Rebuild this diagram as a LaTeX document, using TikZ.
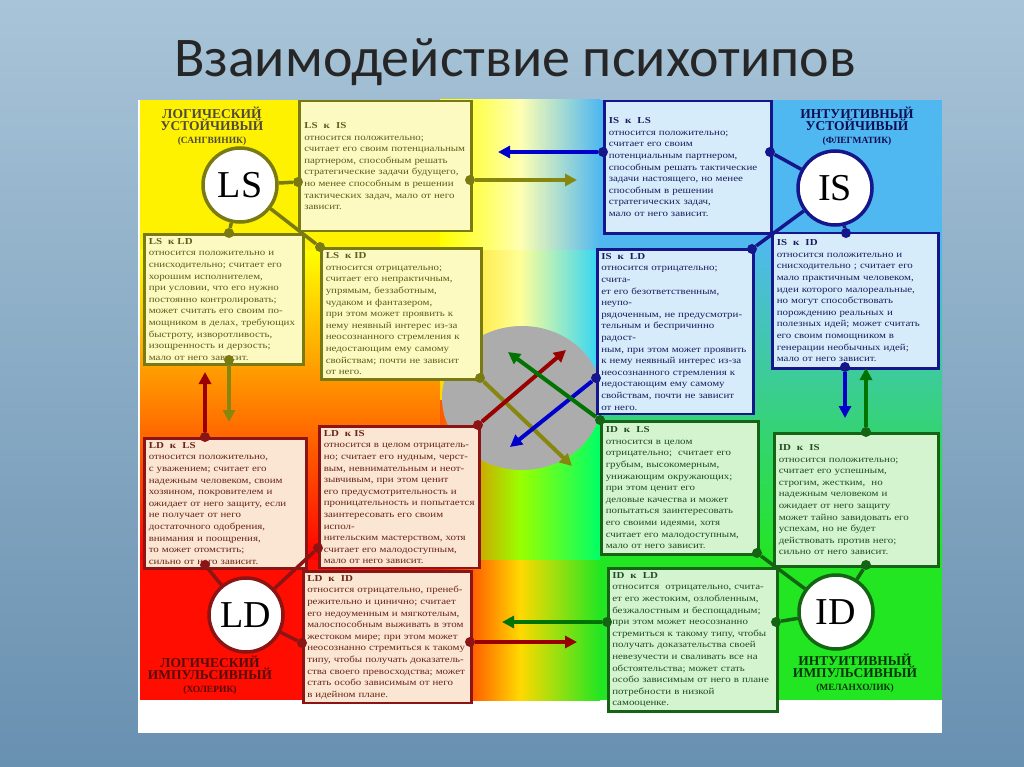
\documentclass[tikz,border=0pt]{standalone}
\usepackage{fontspec}
\setmainfont{Liberation Serif}
\newfontfamily\titlefont{Carlito}
\newfontfamily\boxfont[FakeStretch=1.2]{Liberation Serif}
\usetikzlibrary{arrows.meta,shadings}

\definecolor{lsline}{HTML}{7A7A12}
\definecolor{lsfill}{HTML}{FCFAC0}
\definecolor{lstext}{HTML}{5E5E1A}
\definecolor{isline}{HTML}{16168C}
\definecolor{isfill}{HTML}{D6ECFA}
\definecolor{istext}{HTML}{1C1C60}
\definecolor{ldline}{HTML}{8C1414}
\definecolor{ldfill}{HTML}{FAE6D2}
\definecolor{ldtext}{HTML}{6A2418}
\definecolor{idline}{HTML}{146414}
\definecolor{idfill}{HTML}{D4F4D0}
\definecolor{idtext}{HTML}{1E4E1E}
\definecolor{skyb}{HTML}{50B8F0}
\definecolor{grn}{HTML}{22E622}
\definecolor{slidetop}{HTML}{A8C4D8}
\definecolor{slidebot}{HTML}{6890B0}

\tikzset{
    relbox/.style={
        anchor=north west,
        line width=2.5pt,
        align=left,
        inner sep=4pt,
        font=\boxfont\fontsize{9.1}{11.6}\selectfont
    },
    lsbox/.style={relbox, draw=lsline, fill=lsfill, text=lstext},
    isbox/.style={relbox, draw=isline, fill=isfill, text=istext},
    ldbox/.style={relbox, draw=ldline, fill=ldfill, text=ldtext},
    idbox/.style={relbox, draw=idline, fill=idfill, text=idtext},
    typecirc/.style={
        circle,
        line width=3.5pt,
        fill=white,
        minimum size=74pt,
        font=\fontsize{38}{38}\selectfont
    },
    typelabel/.style={
        align=center,
        font=\bfseries\fontsize{13.5}{12.5}\selectfont
    },
    link/.style={line width=3.5pt},
    relarrow/.style={line width=4pt, -{Triangle[width=12pt,length=12pt]}},
    dot/.style={circle, inner sep=0pt, minimum size=10pt}
}

\newcommand{\hd}[1]{\textbf{#1}\\}

\begin{document}
\begin{tikzpicture}[x=1pt,y=-1pt]
	\useasboundingbox (0,0) rectangle (1024,767);
	% slide background
	\shade[top color=slidetop, bottom color=slidebot] (0,0) rectangle (1024,767);
	\node[font=\titlefont\fontsize{56}{56}\selectfont, text=black!85] (title) at (515,62) {Взаимодействие психотипов};

	% colour field
	\fill[white] (138,100) rectangle (942,733);
	\fill[yellow] (140,100) rectangle (440,250);
	\shade[top color=yellow, middle color=orange, bottom color=red] (140,250) rectangle (440,560);
	\fill[red!90!orange] (140,560) rectangle (440,700);
	\fill[skyb] (600,100) rectangle (942,240);
	\shade[top color=skyb, middle color=cyan!60!green!60, bottom color=grn] (600,240) rectangle (942,560);
	\fill[grn] (600,560) rectangle (942,700);
	\shade[left color=yellow, right color=skyb, middle color=yellow!30!white] (440,100) rectangle (600,250);
	\shade[left color=yellow!70!orange, right color=skyb!60!cyan, middle color=yellow!40!white] (440,250) rectangle (600,400);
	\shade[left color=orange!70!red, right color=cyan!40!green, middle color=yellow!60!green] (440,400) rectangle (600,560);
	\shade[left color=red!90!orange, right color=grn, middle color=yellow!70!orange] (440,560) rectangle (600,700);
	\fill[gray!65] (522,398) ellipse [x radius=80, y radius=72];

	% type circles and captions
	\node[typecirc, draw=lsline] (ls) at (240,185) {LS};
	\node[typecirc, draw=isline] (is) at (835,188) {IS};
	\node[typecirc, draw=ldline] (ld) at (246,615) {LD};
	\node[typecirc, draw=idline] (id) at (836,612) {ID};
	\node[typelabel, text=black!80!yellow] (lslab) at (212,126) {ЛОГИЧЕСКИЙ\\УСТОЙЧИВЫЙ\\{\fontsize{9.5}{11}\selectfont(САНГВИНИК)}};
	\node[typelabel, text=isline!60!black] (islab) at (857,126) {ИНТУИТИВНЫЙ\\УСТОЙЧИВЫЙ\\{\fontsize{9.5}{11}\selectfont(ФЛЕГМАТИК)}};
	\node[typelabel, text=ldline!60!black] (ldlab) at (210,675) {ЛОГИЧЕСКИЙ\\ИМПУЛЬСИВНЫЙ\\{\fontsize{9.5}{11}\selectfont(ХОЛЕРИК)}};
	\node[typelabel, text=idline!50!black] (idlab) at (855,673) {ИНТУИТИВНЫЙ\\ИМПУЛЬСИВНЫЙ\\{\fontsize{9.5}{11}\selectfont(МЕЛАНХОЛИК)}};

	% LS boxes
	\node[lsbox, minimum width=172pt, minimum height=130pt, text width=162pt] (lsis) at (298,100) {\hd{LS\ \ к\ \ IS}относится положительно;\\считает его своим потенциальным\\партнером, способным решать\\стратегические задачи будущего,\\но менее способным в решении\\тактических задач, мало от него\\зависит.};
	\node[lsbox, minimum width=159pt, minimum height=127pt, text width=150pt] (lsld) at (143,233) {\hd{LS\ \ к\ LD}относится положительно и\\снисходительно; считает его\\хорошим исполнителем,\\при условии, что его нужно\\постоянно контролировать;\\может считать его своим по-\\мощником в делах, требующих\\быстроту, изворотливость,\\изощренность и дерзость;\\мало от него зависит.};
	\node[lsbox, minimum width=160pt, minimum height=131pt, text width=151pt] (lsid) at (320,247) {\hd{LS\ \ к\ ID}относится отрицательно;\\считает его непрактичным,\\упрямым, беззаботным,\\чудаком и фантазером,\\при этом может проявить к\\нему неявный интерес из-за\\неосознанного стремления к\\недостающим ему самому\\свойствам; почти не зависит\\от него.};

	% IS boxes
	\node[isbox, minimum width=167pt, minimum height=132pt, text width=158pt] (isls) at (603,100) {\hd{IS\ \ к\ \ LS}относится положительно;\\считает его своим\\потенциальным партнером,\\способным решать тактические\\задачи настоящего, но менее\\способным в решении\\стратегических задач,\\мало от него зависит.};
	\node[isbox, minimum width=156pt, minimum height=130pt, text width=148pt] (isld) at (596,248) {\hd{IS\ \ к\ \ LD}относится отрицательно; счита-\\ет его безответственным, неупо-\\рядоченным, не предусмотри-\\тельным и беспричинно радост-\\ным, при этом может проявить\\к нему неявный интерес из-за\\неосознанного стремления к\\недостающим ему самому\\свойствам, почти не зависит\\от него.};
	\node[isbox, minimum width=166pt, minimum height=135pt, text width=157pt] (isid) at (771,232) {\hd{IS\ \ к\ \ ID}относится положительно и\\снисходительно ; считает его\\мало практичным человеком,\\идеи которого малореальные,\\но могут способствовать\\порождению реальных и\\полезных идей; может считать\\его своим помощником в\\генерации необычных идей;\\мало от него зависит.};

	% LD boxes
	\node[ldbox, minimum width=162pt, minimum height=128pt, text width=153pt] (ldls) at (143,437) {\hd{LD\ \ к\ \ LS}относится положительно,\\с уважением; считает его\\надежным человеком, своим\\хозяином, покровителем и\\ожидает от него защиту, если\\не получает от него\\достаточного одобрения,\\внимания и поощрения,\\то может отомстить;\\сильно от него зависит.};
	\node[ldbox, minimum width=160pt, minimum height=123pt, text width=151pt] (ldis) at (318,425) {\hd{LD\ \ к\ IS}относится в целом отрицатель-\\но; считает его нудным, черст-\\вым, невнимательным и неот-\\зывчивым, при этом ценит\\его предусмотрительность и\\проницательность и попытается\\заинтересовать его своим испол-\\нительским мастерством, хотя\\считает его малодоступным,\\мало от него зависит.};
	\node[ldbox, minimum width=168pt, minimum height=128pt, text width=160pt] (ldid) at (302,570) {\hd{LD\ \ к\ \ ID}относится отрицательно, пренеб-\\режительно и цинично; считает\\его недоуменным и мягкотелым,\\малоспособным выживать в этом\\жестоком мире; при этом может\\неосознанно стремиться к такому\\типу, чтобы получать доказатель-\\ства своего превосходства; может\\стать особо зависимым от него\\в идейном плане.};

	% ID boxes
	\node[idbox, minimum width=157pt, minimum height=133pt, text width=148pt] (idls) at (600,420) {\hd{ID\ \ к\ \ LS}относится в целом\\отрицательно;\ \ считает его\\грубым, высокомерным,\\унижающим окружающих;\\при этом ценит его\\деловые качества и может\\попытаться заинтересовать\\его своими идеями, хотя\\считает его малодоступным,\\мало от него зависит.};
	\node[idbox, minimum width=164pt, minimum height=133pt, text width=155pt] (idis) at (773,432) {\hd{ID\ \ к\ \ IS}относится положительно;\\считает его успешным,\\строгим, жестким,\ \ но\\надежным человеком и\\ожидает от него защиту\\может тайно завидовать его\\успехам, но не будет\\действовать против него;\\сильно от него зависит.};
	\node[idbox, minimum width=169pt, minimum height=129pt, text width=161pt] (idld) at (607,567) {\hd{ID\ \ к\ \ LD}относится\ \ отрицательно, счита-\\ет его жестоким, озлобленным,\\безжалостным и беспощадным;\\при этом может неосознанно\\стремиться к такому типу, чтобы\\получать доказательства своей\\невезучести и сваливать все на\\обстоятельства; может стать\\особо зависимым от него в плане\\потребности в низкой самооценке.};

	% connector points
	\foreach \n/\p in {d1/{298,182}, d2/{320,247}, d3/{229,233}, d4/{470,180}, d5/{229,360}, d6/{480,378}}
		\node[dot, fill=lsline] (\n) at (\p) {};
	\foreach \n/\p in {e1/{770,152}, e2/{752,249}, e3/{846,233}, e4/{603,152}, e5/{845,367}, e6/{596,378}}
		\node[dot, fill=isline] (\n) at (\p) {};
	\foreach \n/\p in {f1/{205,565}, f2/{318,548}, f3/{302,643}, f4/{205,437}, f5/{478,425}, f6/{470,642}}
		\node[dot, fill=ldline] (\n) at (\p) {};
	\foreach \n/\p in {g1/{757,553}, g2/{866,565}, g3/{776,622}, g4/{600,420}, g5/{866,432}, g6/{607,622}}
		\node[dot, fill=idline] (\n) at (\p) {};
	% arrow ends
	\coordinate (a4) at (577,180);  \coordinate (a5) at (229,422);  \coordinate (a6) at (572,466);
	\coordinate (b4) at (498,152);  \coordinate (b5) at (845,418);  \coordinate (b6) at (510,447);
	\coordinate (c4) at (205,372);  \coordinate (c5) at (566,350);  \coordinate (c6) at (577,642);
	\coordinate (h4) at (508,352);  \coordinate (h5) at (866,368);  \coordinate (h6) at (502,622);

	% links to the circles
	\path[link]
	(ls) edge[draw=lsline] (d1) (ls) edge[draw=lsline] (d2) (ls) edge[draw=lsline] (d3)
	(is) edge[draw=isline] (e1) (is) edge[draw=isline] (e2) (is) edge[draw=isline] (e3)
	(ld) edge[draw=ldline] (f1) (ld) edge[draw=ldline] (f2) (ld) edge[draw=ldline] (f3)
	(id) edge[draw=idline] (g1) (id) edge[draw=idline] (g2) (id) edge[draw=idline] (g3);

	% relation arrows
	\path[relarrow]
	(d4) edge[color=lsline!90!yellow] (a4)
	(d5) edge[color=lsline!90!yellow] (a5)
	(d6) edge[color=lsline!90!yellow] (a6)
	(e4) edge[color=blue!80!black] (b4)
	(e5) edge[color=blue!80!black] (b5)
	(e6) edge[color=blue!80!black] (b6)
	(f4) edge[color=red!60!black] (c4)
	(f5) edge[color=red!60!black] (c5)
	(f6) edge[color=red!60!black] (c6)
	(g4) edge[color=green!45!black] (h4)
	(g5) edge[color=green!45!black] (h5)
	(g6) edge[color=green!45!black] (h6);
\end{tikzpicture}
\end{document}
